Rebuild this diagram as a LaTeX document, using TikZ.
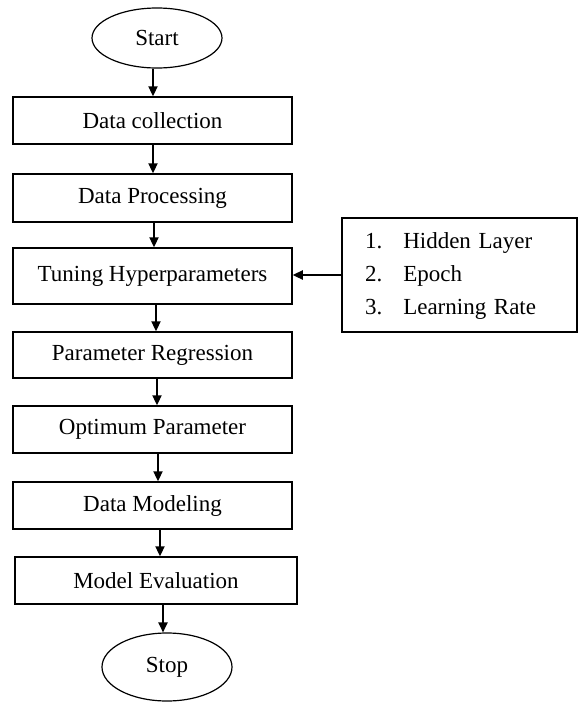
\documentclass[tikz,border=0pt]{standalone}
\usepackage{fontspec}
\setmainfont{Liberation Serif}
\usepackage{tikz}
\usetikzlibrary{shapes.geometric}
\usetikzlibrary{arrows.meta}

\begin{document}
\begin{tikzpicture}[x=0.5pt,y=-0.5pt,
  txt/.style={font=\fontsize{11.5}{14}\selectfont, inner sep=0pt},
  stepbox/.style={txt, draw, line width=0.75pt, rectangle, minimum width=139.5pt},
  terminal/.style={txt, draw, line width=0.6pt, ellipse},
  flow/.style={->, >={Triangle[length=5pt,width=4.6pt]}, line width=0.75pt}]
\useasboundingbox (0,0) rectangle (578,702);
\node[terminal, minimum width=65pt, minimum height=30pt] (start) at (157,38) {Start};
\node[stepbox, minimum height=23.5pt] (dc) at (152.5,120.5) {Data collection};
\node[stepbox, minimum height=24pt] (dp) at (152.5,198) {Data Processing};
\node[stepbox, minimum height=28pt] (tun) at (152.5,276) {Tuning Hyperparameters};
\node[stepbox, minimum height=23pt] (pr) at (152.5,355) {Parameter Regression};
\node[stepbox, minimum height=23.5pt] (op) at (152.5,429.5) {Optimum Parameter};
\node[stepbox, minimum height=23.5pt] (dm) at (152.5,505.5) {Data Modeling};
\node[stepbox, minimum width=141pt, minimum height=23.5pt] (me) at (156,580.5) {Model Evaluation};
\node[terminal, minimum width=65pt, minimum height=34pt] (stop) at (167,667) {Stop};
\node[txt, draw, line width=0.75pt, inner xsep=11.5pt, text width=94.5pt, minimum height=57pt, align=left] (hyper) at (459.5,275)
  {\renewcommand{\arraystretch}{1.18}\begin{tabular}{@{}l@{\hspace{10.5pt}}l@{}}1. & Hidden Layer\\2. & Epoch\\3. & Learning Rate\end{tabular}};
\foreach \a/\sa/\b/\sb in {start/-2/dc/0.25, dc/0.25/dp/0.25, dp/0.75/tun/0.75, tun/1.75/pr/1.75,
  pr/2.25/op/2.25, op/2.75/dm/2.75, dm/3.75/me/2, me/3.5/stop/-2}
  \draw[flow] ([xshift=\sa pt]\a.south) -- ([xshift=\sb pt]\b.north);
\draw[flow] (hyper.west) -- (hyper.west -| tun.east);
\end{tikzpicture}
\end{document}
